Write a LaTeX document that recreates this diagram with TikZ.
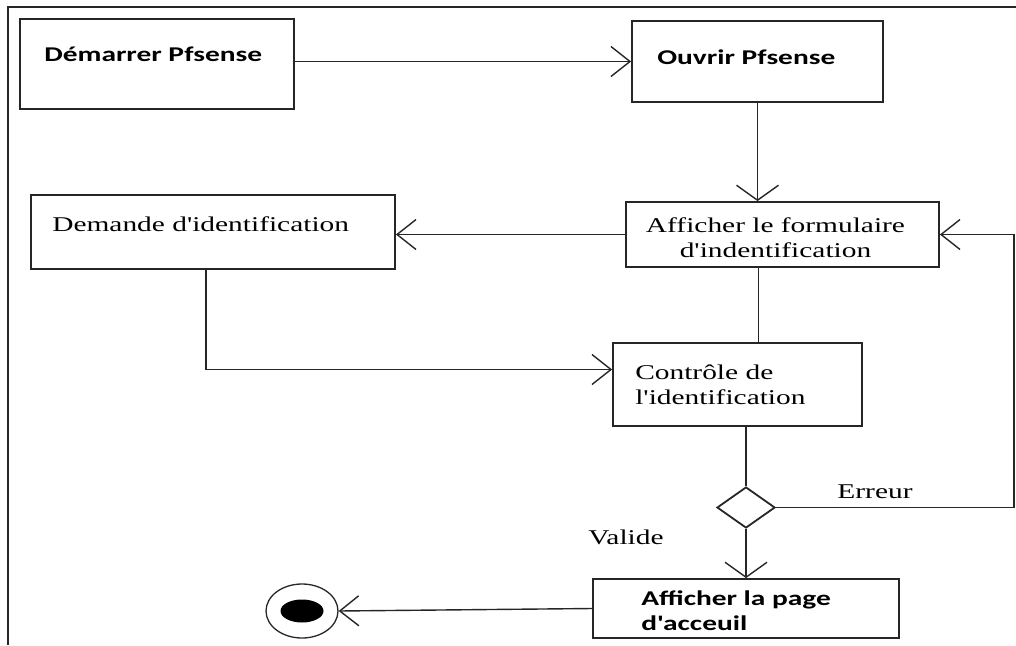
\documentclass[tikz,border=0pt]{standalone}
\usepackage{fontspec}
\newfontfamily\boxserif[FakeStretch=1.4]{Liberation Serif}
\newfontfamily\boxsans[FakeStretch=1.4]{Carlito}
\usepackage{tikz}
\usetikzlibrary{arrows.meta}
\usetikzlibrary{positioning}
\usetikzlibrary{shapes.geometric}
\tikzstyle{box}=[draw=black!85,line width=1.8pt,rectangle,inner sep=0pt]
\tikzstyle{lbl}=[inner sep=0pt,font=\boxserif\fontsize{21}{25}\selectfont]
\tikzstyle{lblb}=[inner sep=0pt,font=\boxsans\bfseries\fontsize{21}{25}\selectfont]
\tikzstyle{link}=[draw=black!85,line width=1.4pt]
\tikzstyle{flow}=[link,-{Straight Barb[length=19pt,width=30pt]}]
\tikzstyle{drop}=[link,-{Straight Barb[length=15pt,width=42pt]}]

\begin{document}
\begin{tikzpicture}[x=1pt,y=-1pt]
\useasboundingbox (0,0) rectangle (1016,645);
\draw[line width=1.6pt,black!85] (8,645) -- (8,7) -- (1016,7);

% activities
\node [box,minimum width=274pt,minimum height=90pt] (start) at (157,64) {};
\node [box,minimum width=251pt,minimum height=81pt] (open) at (757.5,61.5) {};
\node [box,minimum width=364pt,minimum height=74pt] (ident) at (213,232) {};
\node [box,minimum width=313pt,minimum height=65pt] (form) at (782.5,234.5) {};
\node [box,minimum width=249pt,minimum height=83pt] (check) at (737.5,384.5) {};
\node [box,diamond,minimum width=58pt,minimum height=41pt] (dec) at (746,507.5) {};
\node [box,minimum width=306pt,minimum height=59pt] (home) at (746,608.5) {};
\node [draw=black!85,line width=1.3pt,ellipse,minimum width=72pt,minimum height=54pt,inner sep=0pt] (final) at (302,611) {};
\fill (final) ellipse (21.5 and 11.5);

\node at (start.north west) [lblb,anchor=west,xshift=25pt,yshift=-36pt] {Démarrer Pfsense};
\node at (open.north west) [lblb,anchor=west,xshift=26pt,yshift=-37pt] {Ouvrir Pfsense};
\node at (ident.north west) [lbl,anchor=west,xshift=22pt,yshift=-30pt] {Demande d'identification};
\node at (form) [lbl,align=center,xshift=-7pt,yshift=-3pt] {Afficher le formulaire\\d'indentification};
\node at (check.north west) [lbl,anchor=west,align=left,xshift=23pt,yshift=-43pt] {Contrôle de\\l'identification};
\node at (home.north west) [lblb,anchor=west,align=left,xshift=49pt,yshift=-32.5pt] {Afficher la page\\d'acceuil};

% transitions
\draw[flow] (open.west -| start.east) -- (open.west);
\draw[drop] (open.south) -- (open.south |- form.north);
\draw[flow] (form.west) -- (form.west -| ident.east);
\draw[flow] ([xshift=-7pt]ident.south) |- ([yshift=15pt]check.west);
\draw[link] ([xshift=-24pt]form.south) coordinate (f1) -- (f1 |- check.north);
\draw[link] (dec.north |- check.south) -- (dec.north);
\draw[flow] (dec.east) -- ++(238,0) |- (form.east);
\draw[drop] (dec.south) -- (home.north);
\draw[flow] (home.west) -- (final.east);

\node [lbl] (err) at (875,492) {Erreur};
\node [lbl] (ok) at (626,537) {Valide};
\end{tikzpicture}
\end{document}
